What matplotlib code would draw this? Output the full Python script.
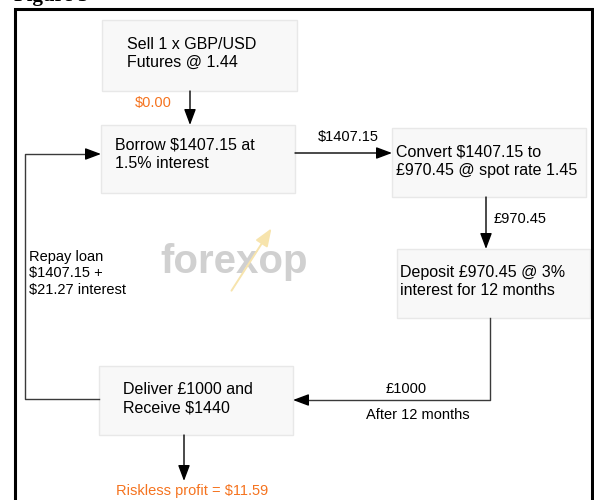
import matplotlib.pyplot as plt
from matplotlib.patches import Rectangle

plt.rcParams['font.family'] = ['Liberation Sans', 'DejaVu Sans']

# Flowchart content
box_labels = [
    "Sell 1 x GBP/USD\nFutures @ 1.44",
    "Borrow $1407.15 at\n1.5% interest",
    "Convert $1407.15 to\n£970.45 @ spot rate 1.45",
    "Deposit £970.45 @ 3%\ninterest for 12 months",
    "Deliver £1000 and\nReceive $1440",
]
flow_labels = ["$1407.15", "£970.45", "£1000", "After 12 months",
               "Repay loan\n$1407.15 +\n$21.27 interest"]
start_amount = "$0.00"
profit_label = "Riskless profit = $11.59"

# Layout in pixel coordinates (x0, y0, x1, y1) and text anchors
box_rects = [(102, 20, 297, 91), (101, 125, 295, 193), (392, 128, 586, 197),
             (397, 249, 590, 318), (99, 366, 293, 435)]
box_text_xy = [(127, 53.5), (115, 154), (396, 161), (400, 281.5), (123, 398.5)]

orange = '#f5731f'
line_col = '#3a3a3a'

fig = plt.figure(figsize=(5.94, 5.0), dpi=100)
ax = fig.add_axes([0, 0, 1, 1])
ax.set_xlim(0, 594)
ax.set_ylim(500, 0)
ax.axis('off')

# outer frame and caption (mostly above the crop, as in the source)
ax.plot([15, 15, 591.5, 591.5], [505, 8.5, 8.5, 505], color='black', lw=2.2,
        solid_joinstyle='miter')
ax.text(14, 0.5, "Figure 3", fontsize=15, fontweight='bold', family='Liberation Serif',
        va='baseline', ha='left')

# watermark
ax.text(160, 262, "forexop", fontsize=29, fontweight='bold', color='#d0d0d0',
        va='center', ha='left')
ax.annotate("", xy=(273, 226), xytext=(230, 293),
            arrowprops=dict(arrowstyle='-|>,head_length=0.9,head_width=0.35',
                            color='#f7e4ad', lw=1.4, mutation_scale=12))

# boxes
for (x0, y0, x1, y1), label, (tx, ty) in zip(box_rects, box_labels, box_text_xy):
    ax.add_patch(Rectangle((x0, y0), x1 - x0, y1 - y0, facecolor='#f8f8f8',
                           edgecolor='#e8e8e8', lw=1))
    ax.text(tx, ty, label, fontsize=11.5, va='center', ha='left', linespacing=1.3)

arrow_kw = dict(arrowstyle='-|>,head_length=0.8,head_width=0.3', color='black',
                lw=1, mutation_scale=12, shrinkA=0, shrinkB=0)


def arrow(x0, y0, x1, y1):
    ax.annotate("", xy=(x1, y1), xytext=(x0, y0), arrowprops=arrow_kw)


# straight connectors
arrow(190, 91, 190, 125)
arrow(295, 153, 392, 153)
arrow(486, 197, 486, 249)
arrow(184, 435, 184, 481)

# elbow connectors
ax.plot([490, 490, 305], [318, 400, 400], color=line_col, lw=1)
arrow(306, 400, 293, 400)
ax.plot([99, 25, 25, 90], [399, 399, 154, 154], color=line_col, lw=1)
arrow(89, 154, 101, 154)

# flow labels
ax.text(135, 103, start_amount, fontsize=10.5, color=orange, va='center', ha='left')
ax.text(318, 137, flow_labels[0], fontsize=10.5, va='center', ha='left')
ax.text(494, 219, flow_labels[1], fontsize=10.5, va='center', ha='left')
ax.text(406, 389, flow_labels[2], fontsize=10.5, va='center', ha='center')
ax.text(418, 415, flow_labels[3], fontsize=10.5, va='center', ha='center')
ax.text(29, 273.5, flow_labels[4], fontsize=10.5, va='center', ha='left',
        linespacing=1.27)
ax.text(192, 491, profit_label, fontsize=10.5, color=orange, va='center', ha='center')

fig.savefig("out.png", dpi=100)
